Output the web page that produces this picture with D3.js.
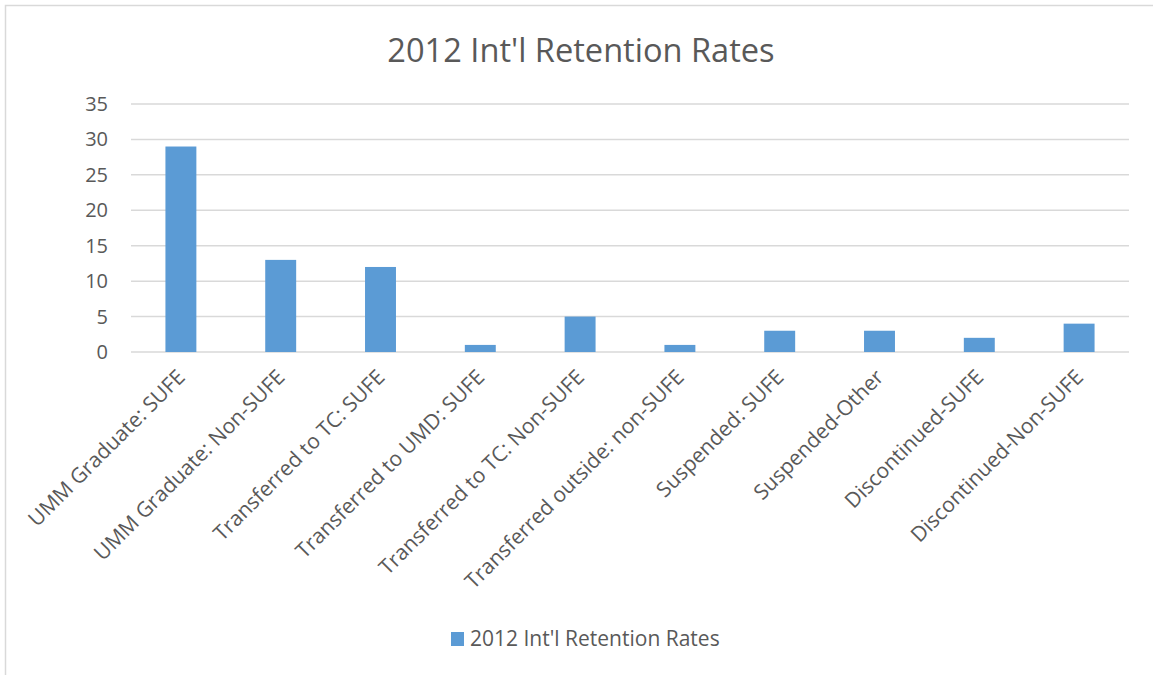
<!DOCTYPE html>
<html lang="en">
<head>
  <meta charset="utf-8">
  <script src="https://d3js.org/d3.v7.min.js"></script>
  <style>
    body { margin: 0; background: #fff; }
    text { font-family: "Open Sans", sans-serif; fill: #595959; }
  </style>
</head>
<body>
<script>
  // data
  const categories = [
    "UMM Graduate: SUFE", "UMM Graduate: Non-SUFE", "Transferred to TC: SUFE",
    "Transferred to UMD: SUFE", "Transferred to TC: Non-SUFE", "Transferred outside: non-SUFE",
    "Suspended: SUFE", "Suspended-Other", "Discontinued-SUFE", "Discontinued-Non-SUFE"
  ];
  const values = [29, 13, 12, 1, 5, 1, 3, 3, 2, 4];
  const yTicks = [0, 5, 10, 15, 20, 25, 30, 35];
  const title = "2012 Int'l Retention Rates";
  const seriesName = "2012 Int'l Retention Rates";

  const W = 1153, H = 675;
  const plotLeft = 131, plotRight = 1129, plotTop = 104, plotBottom = 352;

  const svg = d3.select("body").append("svg")
    .attr("width", W).attr("height", H);

  // chart frame
  svg.append("rect")
    .attr("x", 5.5).attr("y", 5.5).attr("width", 1160).attr("height", 700)
    .attr("fill", "none").attr("stroke", "#d9d9d9").attr("stroke-width", 1.5);

  const x = d3.scaleBand().domain(categories).range([plotLeft, plotRight]).paddingInner(0.69).paddingOuter(0.345);
  const y = d3.scaleLinear().domain([0, 35]).range([plotBottom, plotTop]);

  // gridlines
  svg.append("g").selectAll("line").data(yTicks).join("line")
    .attr("x1", plotLeft).attr("x2", plotRight)
    .attr("y1", d => y(d)).attr("y2", d => y(d))
    .attr("stroke", "#d9d9d9").attr("stroke-width", 1.5);

  // y tick labels
  svg.append("g").selectAll("text").data(yTicks).join("text")
    .attr("x", 108).attr("y", d => y(d) + 7)
    .attr("text-anchor", "end").attr("font-size", 20)
    .text(d => d);

  // bars
  svg.append("g").selectAll("rect").data(values).join("rect")
    .attr("x", (d, i) => x(categories[i]))
    .attr("width", x.bandwidth())
    .attr("y", d => y(d))
    .attr("height", d => y(0) - y(d))
    .attr("fill", "#5b9bd5");

  // category labels, rotated
  svg.append("g").selectAll("text").data(categories).join("text")
    .attr("transform", d => {
      const cx = x(d) + x.bandwidth() / 2 - 5;
      return `translate(${cx},${plotBottom + 16}) rotate(-45)`;
    })
    .attr("text-anchor", "end").attr("font-size", 21)
    .attr("dy", "0.7em")
    .text(d => d);

  // title
  svg.append("text")
    .attr("x", 581).attr("y", 62)
    .attr("text-anchor", "middle").attr("font-size", 32.6)
    .text(title);

  // legend
  svg.append("rect").attr("x", 451).attr("y", 632).attr("width", 13).attr("height", 14).attr("fill", "#5b9bd5");
  svg.append("text").attr("x", 470).attr("y", 646).attr("font-size", 21).text(seriesName);
</script>
</body>
</html>
